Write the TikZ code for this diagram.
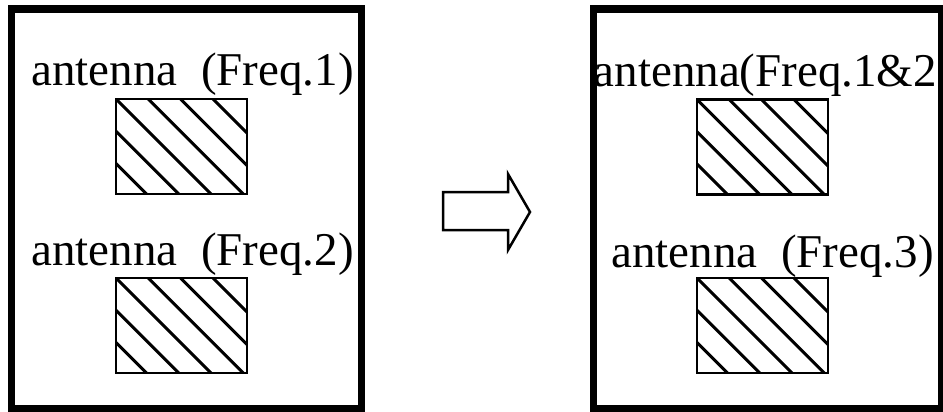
\documentclass[tikz,border=0pt]{standalone}
\usepackage{fontspec}
\setmainfont{Liberation Serif}

\begin{document}
\begin{tikzpicture}[x=1pt, y=-1pt,
    panel/.style={draw, line width=7.5pt, inner sep=0pt},
    patch/.style={draw, line width=2.5pt, inner sep=0pt, minimum width=131pt, minimum height=95pt,
        path picture={\foreach \k in {-2,...,3}
            \draw[line width=3pt] ([xshift=\k*32.3pt]path picture bounding box.north west) -- ++(170pt,-170pt);}},
    freqtext/.style={anchor=base west, inner sep=0pt, font=\fontsize{47}{56}\selectfont}]
    \useasboundingbox (0,0) rectangle (943,412);

    % Before: two antennas
    \node[freqtext] (f1) at (31.3,85) {antenna\ \ (Freq.1)};
    \node[patch] (ant1) at (181.5,146.5) {};
    \node[freqtext] (f2) at (31.3,265) {antenna\ \ (Freq.2)};
    \node[patch] (ant2) at (181.5,325.5) {};

    % After: shared antenna
    \node[freqtext] (f12) at (593.5,86) {antenna(Freq.1\&2};
    \node[patch] (ant12) at (762.5,147) {};
    \node[freqtext] (f3) at (611.3,267) {antenna\ \ (Freq.3)};
    \node[patch] (ant3) at (762.5,325.5) {};

    % Frames
    \node[panel, minimum width=350pt, minimum height=399.5pt] (before) at (186.5,208.75) {};
    \node[panel, minimum width=348.5pt, minimum height=400pt] (after) at (767.75,209) {};

    % Block arrow
    \draw[line width=2.5pt, line join=miter] (443,192) -- (508,192) -- (508,174) -- (530,212)
        -- (508,250) -- (508,230) -- (443,230) -- cycle;
\end{tikzpicture}
\end{document}
